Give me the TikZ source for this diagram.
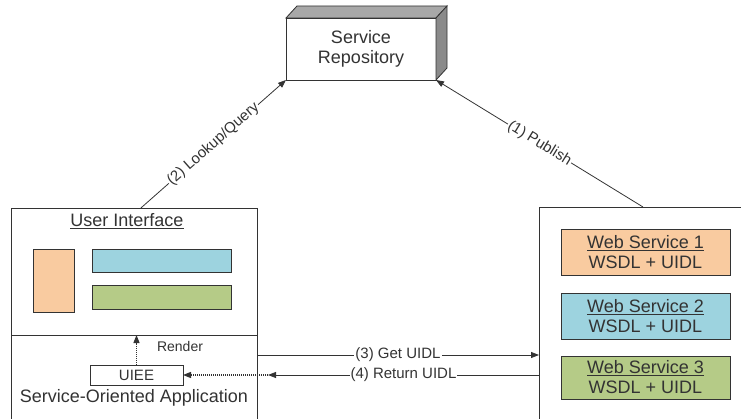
\documentclass[tikz,border=0pt]{standalone}
\usepackage{fontspec}
\setmainfont{Liberation Sans}
\usetikzlibrary{arrows.meta,calc}
\definecolor{ink}{HTML}{333333}
\definecolor{wsorange}{HTML}{F9CBA0}
\definecolor{wsblue}{HTML}{9DD3DF}
\definecolor{wsgreen}{HTML}{B5CB87}
\definecolor{facetop}{HTML}{A8A8A8}
\definecolor{faceside}{HTML}{8A8A8A}
\begin{document}
\begin{tikzpicture}[x=1pt,y=-1pt,
  box/.style={draw=ink, line width=0.8pt, inner sep=0pt, outer sep=0pt},
  bigtext/.style={font=\fontsize{18}{20}\selectfont, text=ink, align=center},
  lbl/.style={fill=white, inner sep=1pt, font=\fontsize{15}{18}\selectfont, text=ink},
  arr/.style={draw=ink, line width=0.8pt, -{Triangle[length=8pt,width=6pt]}},
  dotarr/.style={draw=ink, line width=1.2pt, dash pattern=on 1pt off 1pt,
    -{Triangle[length=8pt,width=6pt]}},
  wsbox/.style={box, minimum width=169pt, bigtext}]
\useasboundingbox (0,0) rectangle (741,419);
\clip (0,0) rectangle (741,419);

% service repository (3D box)
\node[box, fill=white, minimum width=150pt, minimum height=62pt, bigtext]
  (repo) at (361,49) {Service\\Repository};
\draw[ink, line width=0.8pt, fill=facetop] (repo.north west) -- ++(11,-12)
  -- ($(repo.north east)+(11,-12)$) -- (repo.north east) -- cycle;
\draw[ink, line width=0.8pt, fill=faceside] (repo.north east) -- ++(11,-12)
  -- ($(repo.south east)+(11,-12)$) -- (repo.south east) -- cycle;

% service-oriented application
\node[box, minimum width=246pt, minimum height=232pt] (lbox) at (134,324) {};
\coordinate (divL) at (11,335);
\coordinate (divR) at (257,335);
\draw[ink, line width=0.8pt] (divL) -- (divR);
\node[bigtext] (ui) at (127,221) {\underline{User Interface}};
\node[box, fill=wsorange, minimum width=41pt, minimum height=63pt] (uiA) at (53.5,280.5) {};
\node[box, fill=wsblue, minimum width=139pt, minimum height=23pt] (uiB) at (161.5,260.5) {};
\node[box, fill=wsgreen, minimum width=139pt, minimum height=24pt] (uiC) at (161.5,297) {};
\node[box, fill=white, minimum width=93pt, minimum height=20pt,
  font=\fontsize{15}{18}\selectfont, text=ink] (uiee) at (136.5,375) {UIEE};
\node[font=\fontsize{14}{17}\selectfont, text=ink] (render) at (180,346) {Render};
\node[bigtext] (soa) at (134,398) {Service-Oriented Application};
\draw[dotarr] (uiee.north) -- (uiee.north |- divL);

% web services
\node[box, minimum width=221pt, minimum height=233pt] (rbox) at (649.5,323.5) {};
\node[wsbox, fill=wsorange, minimum height=46pt] (ws1) at (645.5,252)
  {\underline{Web Service 1}\\WSDL + UIDL};
\node[wsbox, fill=wsblue, minimum height=46pt] (ws2) at (645.5,316)
  {\underline{Web Service 2}\\WSDL + UIDL};
\node[wsbox, fill=wsgreen, minimum height=43pt] (ws3) at (645.5,377.5)
  {\underline{Web Service 3}\\WSDL + UIDL};

% connectors
\coordinate (lookup) at ($(lbox.north west)!0.528!(lbox.north east)$);
\coordinate (publish) at ($(rbox.north west)+(104,0)$);
\draw[arr] (lookup) -- node[lbl, sloped] {(2) Lookup/Query} (repo.south west);
\draw[arr] (publish) -- node[lbl, sloped] {(1) Publish} (repo.south east);
\draw[arr] (lbox.east |- 0,355) -- node[lbl] {(3) Get UIDL} (rbox.west |- 0,355);
\coordinate (ret) at (268,375);
\draw[arr] (rbox.west |- ret) -- node[lbl] {(4) Return UIDL} (ret);
\draw[dotarr] (ret) -- (uiee.east);
\end{tikzpicture}
\end{document}
